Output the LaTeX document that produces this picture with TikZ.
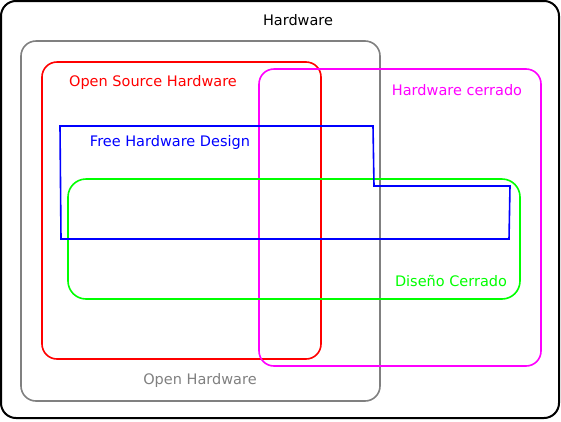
\documentclass[tikz,border=0pt]{standalone}
\usepackage{fontspec}
\setmainfont{DejaVu Sans}
\begin{document}
\begin{tikzpicture}[x=1pt,y=-1pt,
  box/.style={line width=1.6pt,rounded corners=15pt},
  lbl/.style={inner sep=0pt,font=\fontsize{14.5}{17}\selectfont}]
\useasboundingbox (0,0) rectangle (561,421);
\definecolor{grn}{RGB}{0,255,0}
\definecolor{mag}{RGB}{255,0,255}
\definecolor{gry}{RGB}{128,128,128}
% outer
\draw[box,black,line width=2pt] (1,1) rectangle (559,418);
\node[lbl] (hw) at (298,20) {Hardware};
% open hardware
\draw[box,gry] (21,41) rectangle (380,401);
\node[lbl,text=gry] (ohw) at (200,380) {Open Hardware};
% open source hardware
\draw[box,red] (42,62) rectangle (321,359);
\node[lbl,text=red] (oshw) at (153,82) {Open Source Hardware};
% hardware cerrado
\draw[box,mag] (259,69) rectangle (541,366);
\node[lbl,text=mag] (hwc) at (457,90) {Hardware cerrado};
% diseño cerrado
\draw[box,grn,rounded corners=18pt] (68,179) rectangle (520,299);
\node[lbl,text=grn] (dc) at (451,281) {Diseño Cerrado};
% free hardware design
\draw[line width=1.6pt,blue] (60,126) -- (373,126) -- (374,186) -- (510,186) -- (509,239) -- (61,239) -- cycle;
\node[lbl,text=blue] (fhd) at (170,142) {Free Hardware Design};
\end{tikzpicture}
\end{document}
